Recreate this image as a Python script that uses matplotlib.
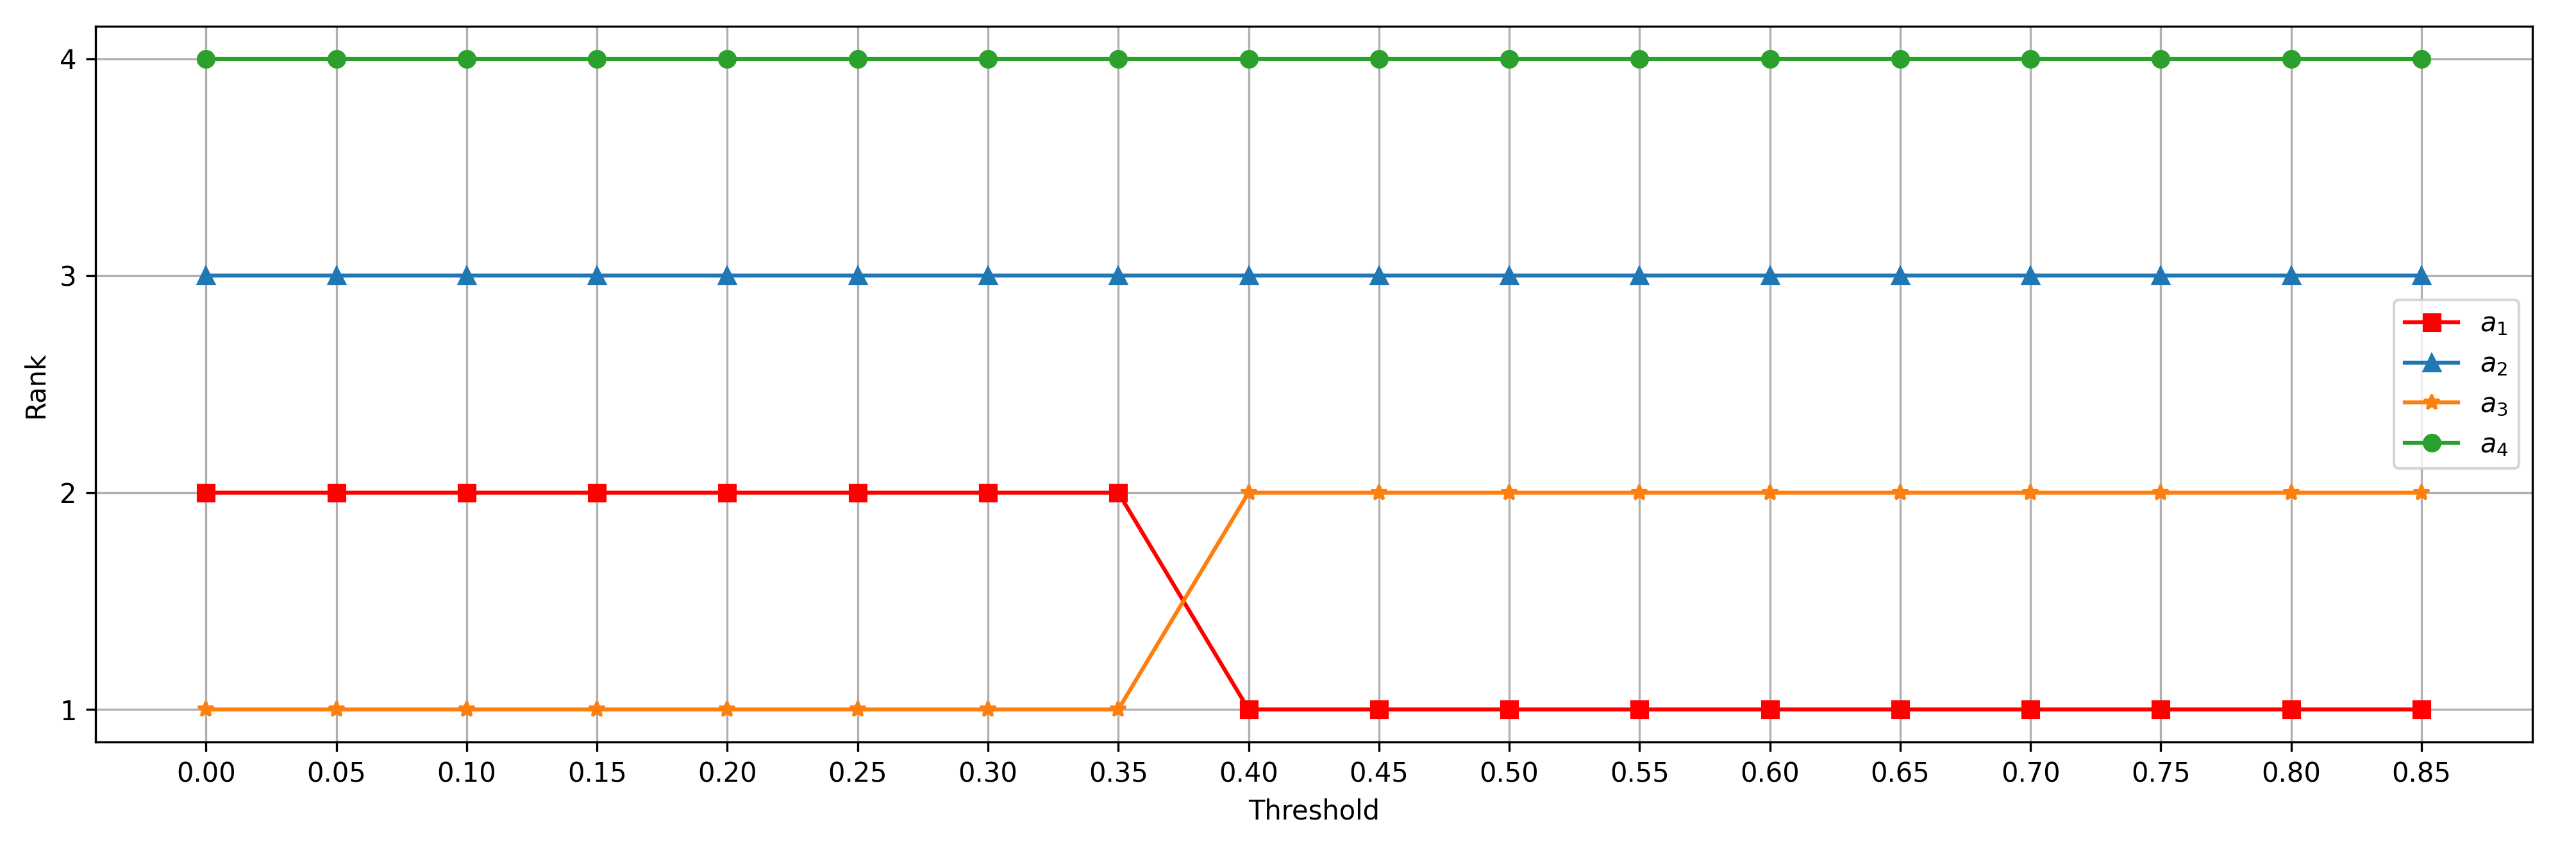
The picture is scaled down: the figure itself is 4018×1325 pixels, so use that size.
import matplotlib
matplotlib.use("Agg")
import matplotlib.pyplot as plt
import numpy as np

thresholds = [0.00,0.05,0.10,0.15,0.20,0.25,0.30,0.35,0.40,0.45,0.50,0.55,0.60,0.65,0.70,0.75,0.80,0.85]
a1 = [2,2,2,2,2,2,2,2,1,1,1,1,1,1,1,1,1,1]
a2 = [3]*18
a3 = [1,1,1,1,1,1,1,1,2,2,2,2,2,2,2,2,2,2]
a4 = [4]*18

fig = plt.figure(figsize=(4018/300, 1325/300), dpi=300)
ax = fig.add_axes([0.037, 0.126, 0.946, 0.843])
ax.plot(thresholds, a1, color='red', marker='s', label='$a_1$')
ax.plot(thresholds, a2, color='#1f77b4', marker='^', label='$a_2$')
ax.plot(thresholds, a3, color='#ff7f0e', marker='*', label='$a_3$')
ax.plot(thresholds, a4, color='#2ca02c', marker='o', label='$a_4$')
ax.set_xticks(thresholds)
ax.set_xticklabels([f"{t:.2f}" for t in thresholds])
ax.set_yticks([1,2,3,4])
ax.set_xlabel('Threshold')
ax.set_ylabel('Rank')
ax.grid(True)
ax.legend(loc='center right')
fig.savefig('out.png', dpi=300)
